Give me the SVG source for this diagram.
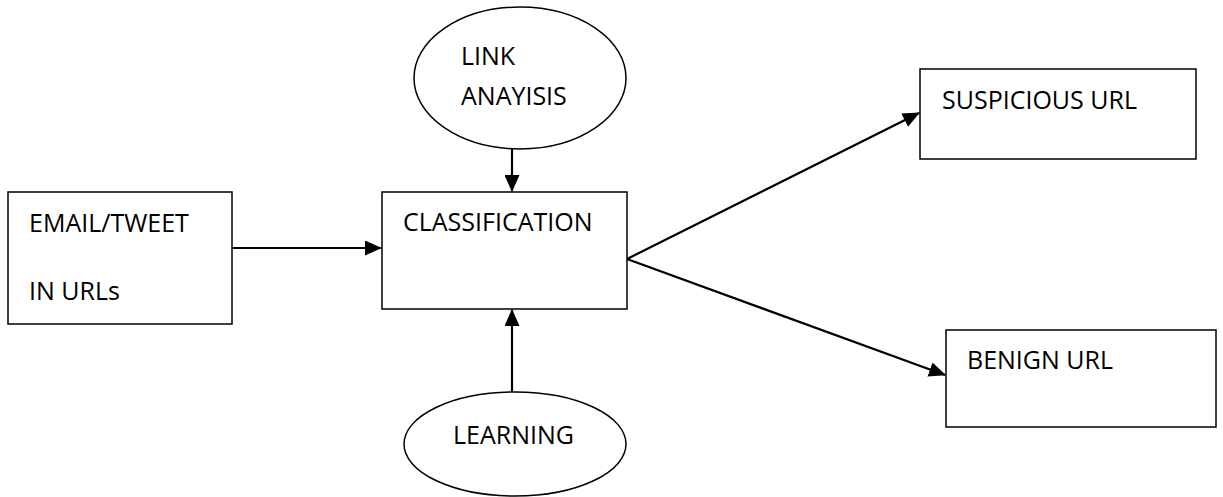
<svg xmlns="http://www.w3.org/2000/svg" width="1223" height="497" viewBox="0 0 1223 497">
<style>
.box{fill:#fff;stroke:#000;stroke-width:1.5}
.lbl{font-family:"Open Sans","Liberation Sans",sans-serif;font-size:25px;fill:#000}
.conn{stroke:#000;stroke-width:2.2;fill:none}
</style>
<defs>
<marker id="ah" markerWidth="17" markerHeight="15" refX="16" refY="7.5" orient="auto" markerUnits="userSpaceOnUse">
<path d="M0,0 L17,7.5 L0,15 Z" fill="#000"/>
</marker>
</defs>
<rect width="1223" height="497" fill="#fff"/>
<g id="email">
<rect class="box" x="8" y="192" width="224" height="132"/>
<text class="lbl" x="29" y="232">EMAIL/TWEET</text>
<text class="lbl" x="29" y="300">IN URLs</text>
</g>
<g id="classification">
<rect class="box" x="382" y="192" width="245" height="117"/>
<text class="lbl" x="403" y="231">CLASSIFICATION</text>
</g>
<g id="link">
<ellipse class="box" cx="520" cy="78" rx="106" ry="71"/>
<text class="lbl" x="461" y="65">LINK</text>
<text class="lbl" x="461" y="105">ANAYISIS</text>
</g>
<g id="learning">
<ellipse class="box" cx="515" cy="444" rx="111" ry="52"/>
<text class="lbl" x="453" y="444">LEARNING</text>
</g>
<g id="suspicious">
<rect class="box" x="920" y="69" width="276" height="90"/>
<text class="lbl" x="942" y="109">SUSPICIOUS URL</text>
</g>
<g id="benign">
<rect class="box" x="946" y="330" width="270" height="97"/>
<text class="lbl" x="967" y="369">BENIGN URL</text>
</g>
<g id="connectors">
<line class="conn" x1="232" y1="248" x2="381" y2="248" marker-end="url(#ah)"/>
<line class="conn" x1="512" y1="149" x2="512" y2="191" marker-end="url(#ah)"/>
<line class="conn" x1="512" y1="392" x2="512" y2="310" marker-end="url(#ah)"/>
<line class="conn" x1="627" y1="259" x2="919" y2="113" marker-end="url(#ah)"/>
<line class="conn" x1="627" y1="259" x2="945" y2="375" marker-end="url(#ah)"/>
</g>
</svg>
